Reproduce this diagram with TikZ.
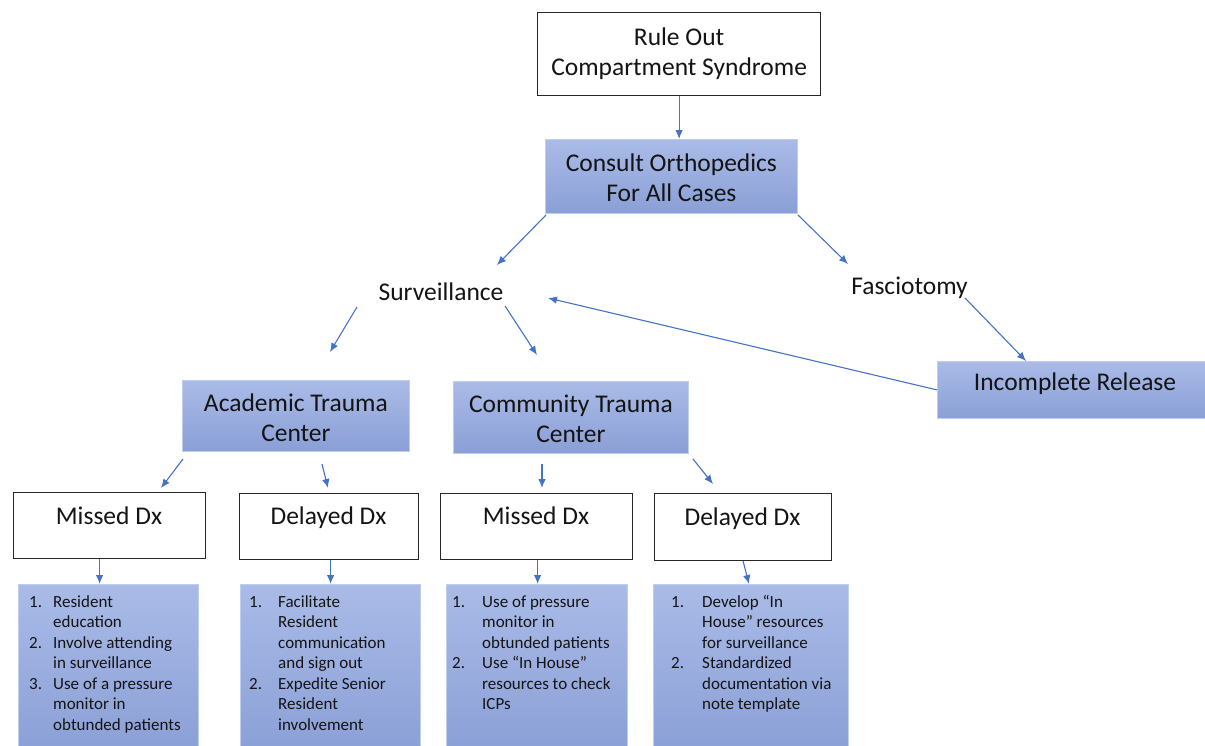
\documentclass[tikz,border=0pt]{standalone}
\usepackage{fontspec}
\setmainfont{Carlito}
\usetikzlibrary{arrows.meta,calc}
\definecolor{arrowc}{RGB}{68,114,196}
\definecolor{txt}{RGB}{20,20,20}
\definecolor{btop}{RGB}{170,187,231}
\definecolor{bbot}{RGB}{138,159,214}
\definecolor{bedge}{RGB}{190,205,240}
\begin{document}
\begin{tikzpicture}[x=1pt,y=-1pt,
  big/.style={font=\fontsize{25.5}{30}\selectfont, text=txt, align=center},
  small/.style={font=\fontsize{17}{20.5}\selectfont, text=txt, align=left, inner sep=0pt, anchor=north west},
  wbox/.style={draw=black!85, line width=1.2pt, fill=white, inner sep=0pt, anchor=north west},
  bbox/.style={draw=bedge, line width=0.8pt, top color=btop, bottom color=bbot, inner sep=0pt, anchor=north west},
  arr/.style={draw=arrowc, line width=1.1pt, -{Latex[length=9pt,width=7.5pt]}},
]
\useasboundingbox (0,0) rectangle (1205,745);

% top
\node[wbox, minimum width=283pt, minimum height=83pt] (rule) at (537,12) {};
\node[big] (ruletxt) at (rule.center) {Rule Out\\Compartment Syndrome};
\node[bbox, minimum width=252pt, minimum height=74pt] (consult) at (545,139) {};
\node[big] (consulttxt) at ([yshift=-1.5pt]consult.center) {Consult Orthopedics\\For All Cases};

\node[big] (surv) at (441,292) {Surveillance};
\node[big] (fasc) at (909.5,288) {Fasciotomy};

\node[bbox, minimum width=270pt, minimum height=57pt] (ir) at (937,361) {};
\node[big] (irtxt) at (1075,384) {Incomplete Release};

\node[bbox, minimum width=227pt, minimum height=71pt] (acad) at (182,380) {};
\node[big] (acadtxt) at ([yshift=-2pt]acad.center) {Academic Trauma\\Center};
\node[bbox, minimum width=235pt, minimum height=72pt] (comm) at (453,381) {};
\node[big] (commtxt) at ([yshift=-1pt]comm.center) {Community Trauma\\Center};

% Dx boxes
\node[wbox, minimum width=192pt, minimum height=66pt] (md1) at (13,492) {};
\node[big, anchor=base] (md1t) at (109,524) {Missed Dx};
\node[wbox, minimum width=179pt, minimum height=66pt] (dd1) at (239,493) {};
\node[big, anchor=base] (dd1t) at (328.5,524) {Delayed Dx};
\node[wbox, minimum width=192pt, minimum height=66pt] (md2) at (440,493) {};
\node[big, anchor=base] (md2t) at (536,524) {Missed Dx};
\node[wbox, minimum width=177pt, minimum height=67pt] (dd2) at (654,493) {};
\node[big, anchor=base] (dd2t) at (742.5,525) {Delayed Dx};

% bottom boxes
\node[bbox, minimum width=180pt, minimum height=170pt] (b1) at (18,584) {};
\node[bbox, minimum width=180pt, minimum height=170pt] (b2) at (240,584) {};
\node[bbox, minimum width=181pt, minimum height=170pt] (b3) at (446,584) {};
\node[bbox, minimum width=195pt, minimum height=170pt] (b4) at (653,584) {};

\node[small] (b1t) at (29,592.6) {\begin{tabular}{@{}l@{}l@{}}
\makebox[24pt][l]{1.} & Resident\\ & education\\
\makebox[24pt][l]{2.} & Involve attending\\ & in surveillance\\
\makebox[24pt][l]{3.} & Use of a pressure\\ & monitor in\\ & obtunded patients
\end{tabular}};
\node[small] (b2t) at (249,592.6) {\begin{tabular}{@{}l@{}l@{}}
\makebox[29pt][l]{1.} & Facilitate\\ & Resident\\ & communication\\ & and sign out\\
\makebox[29pt][l]{2.} & Expedite Senior\\ & Resident\\ & involvement
\end{tabular}};
\node[small] (b3t) at (452,592.6) {\begin{tabular}{@{}l@{}l@{}}
\makebox[30pt][l]{1.} & Use of pressure\\ & monitor in\\ & obtunded patients\\
\makebox[30pt][l]{2.} & Use “In House”\\ & resources to check\\ & ICPs
\end{tabular}};
\node[small] (b4t) at (671,592.6) {\begin{tabular}{@{}l@{}l@{}}
\makebox[31pt][l]{1.} & Develop “In\\ & House” resources\\ & for surveillance\\
\makebox[31pt][l]{2.} & Standardized\\ & documentation via\\ & note template
\end{tabular}};

% free arrow ends
\coordinate (c1s) at (546,215); \coordinate (c1e) at (497,265);
\coordinate (c2s) at (798,215); \coordinate (c2e) at (848,264);
\coordinate (s1s) at (357,307); \coordinate (s1e) at (330,352);
\coordinate (s2s) at (505,306); \coordinate (s2e) at (537,355);
\coordinate (f1s) at (965,298); \coordinate (f1e) at (1026,361);
\coordinate (irE) at (548,298);
\coordinate (a1s) at (183,459); \coordinate (a1e) at (161,488);
\coordinate (a2s) at (322,464); \coordinate (a2e) at (328,488);
\coordinate (m1s) at (542,464); \coordinate (m1e) at (542,488);
\coordinate (m2s) at (693,459); \coordinate (m2e) at (713,484);

% connectors
\draw[arr] (rule.south) -- (rule.south |- consult.north);
\draw[arr] (c1s) -- (c1e);
\draw[arr] (c2s) -- (c2e);
\draw[arr] (s1s) -- (s1e);
\draw[arr] (s2s) -- (s2e);
\draw[arr] (f1s) -- (f1e);
\draw[arr] (ir.west) -- (irE);
\draw[arr] (a1s) -- (a1e);
\draw[arr] (a2s) -- (a2e);
\draw[arr] (m1s) -- (m1e);
\draw[arr] (m2s) -- (m2e);
\draw[arr] ([xshift=-10pt]md1.south) -- ([xshift=-10pt]md1.south |- b1.north);
\draw[arr] ([xshift=1.5pt]dd1.south) -- ([xshift=1.5pt]dd1.south |- b2.north);
\draw[arr] ([xshift=1pt]md2.south) -- ([xshift=1pt]md2.south |- b3.north);
\coordinate (d2e) at (749,584);
\draw[arr] (dd2.south) -- (d2e);
\end{tikzpicture}
\end{document}
